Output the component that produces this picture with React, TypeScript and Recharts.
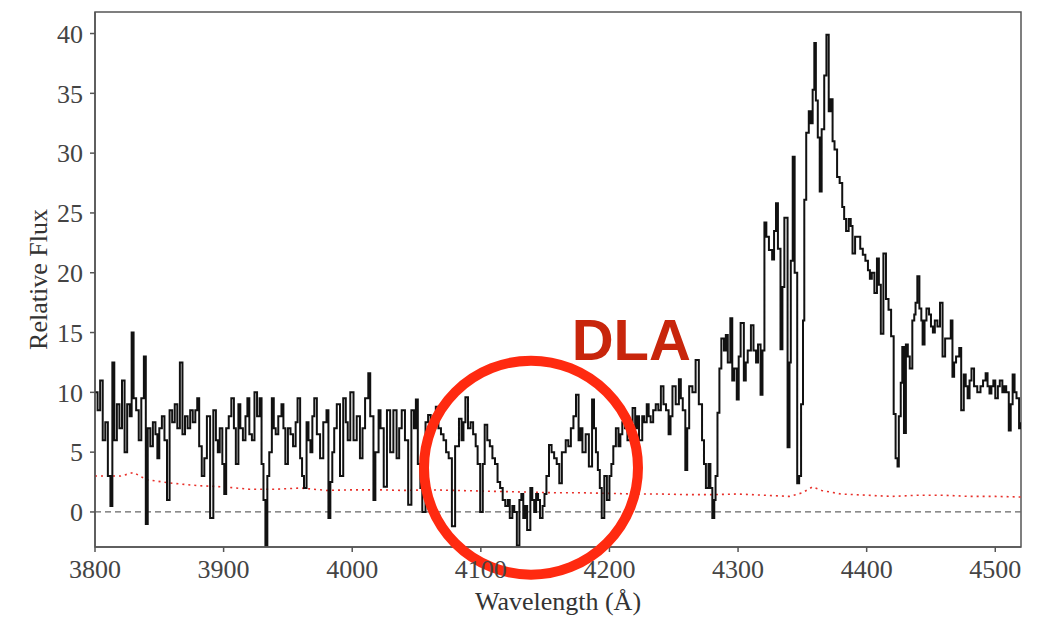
import React from 'react';
import { LineChart, XAxis, YAxis, Line, ReferenceLine, ReferenceDot, ReferenceArea } from 'recharts';

// wavelength (Angstrom) of each spectrum sample
const waves = [
  3800, 3802, 3804, 3806, 3808, 3810, 3812, 3813.5, 3815, 3817, 3819, 3821, 3823, 3825, 3827, 3828.5, 3830, 3832, 3834, 3836,
  3838, 3839.5, 3841, 3843, 3845, 3847, 3848.5, 3850, 3852, 3854, 3856, 3858, 3860, 3862, 3864, 3866, 3868, 3870, 3872, 3874,
  3876, 3878, 3879.5, 3881, 3883, 3885, 3887, 3889.5, 3892, 3894, 3895.5, 3897, 3899, 3900.5, 3902, 3904, 3906, 3908, 3909.5, 3911.5,
  3913, 3915, 3917, 3918.5, 3920, 3922, 3924,
  3926, 3928, 3929.5, 3931, 3932.5, 3934, 3935.5, 3937.5, 3939, 3940.5, 3942.5, 3945, 3946.5, 3948, 3950, 3952, 3954, 3956, 3957.5, 3959.5,
  3961, 3962.5, 3964.5, 3966, 3967.5, 3969, 3970.5, 3972.5, 3975, 3977.5, 3980, 3981.5, 3983, 3984.5, 3986, 3988, 3990.5, 3993, 3995, 3996.5,
  3998.5, 4001, 4003.5, 4006, 4008, 4010, 4012.5, 4014, 4016.5, 4018, 4020.5, 4022, 4024.5, 4027, 4029.5, 4032, 4034.5, 4036.5, 4038.5, 4041,
  4043.5,
  4046, 4048, 4049.5, 4051, 4053, 4054.5, 4057, 4059, 4061, 4063, 4065, 4067, 4069, 4071, 4073, 4075, 4077.5, 4080, 4083, 4085,
  4086.5, 4088, 4090, 4092, 4094, 4096, 4097.5, 4099.5, 4101.5, 4103, 4105, 4107, 4109, 4111, 4113, 4115, 4117, 4119, 4121, 4122.5,
  4124.5, 4126, 4128, 4130, 4131.5, 4133, 4134.5, 4136, 4138.5, 4140, 4141.5, 4143, 4144.5, 4146, 4148, 4149.5, 4151, 4153, 4155, 4157,
  4159, 4161, 4163,
  4166, 4168, 4170, 4172, 4174, 4176, 4177.5, 4179, 4181.5, 4184, 4186.5, 4188, 4189.5, 4191, 4192.5, 4194, 4196, 4198, 4200, 4201.5,
  4203, 4205, 4207, 4208.5, 4210, 4212, 4214, 4216, 4218, 4220, 4221.5, 4223, 4225.5, 4227, 4229, 4230.5, 4232, 4234, 4236, 4238,
  4240, 4242, 4244, 4246, 4247.5, 4249, 4251.5, 4254, 4255.5, 4257, 4259, 4260.5, 4262, 4264.5, 4267, 4269.5, 4272, 4273.5, 4275, 4277,
  4278.5, 4280, 4281.5, 4282.5,
  4284, 4285.5, 4287, 4289, 4290.5, 4292, 4294, 4295.5, 4297, 4299, 4300.5, 4302, 4304.5, 4306, 4307.5, 4310, 4312, 4314, 4315.5, 4317.5,
  4319, 4320.5, 4322, 4324, 4326.5, 4328, 4329.5, 4331, 4333, 4334.5, 4336, 4338.5, 4340, 4341, 4342.5, 4344, 4346, 4347.5, 4349, 4350.5,
  4351.5, 4353, 4355, 4356.5, 4358, 4359.3, 4360.5, 4362, 4363.5, 4365, 4367, 4368.7, 4370.5, 4372, 4373.5, 4375, 4377, 4379, 4381, 4382.5,
  4384, 4386, 4387.6, 4389, 4391, 4393, 4395, 4397, 4399, 4401, 4402.5, 4404, 4406,
  4408, 4409.5, 4411, 4413, 4415, 4417, 4419, 4421, 4422.5, 4424, 4425, 4426.5, 4427.7, 4429, 4430.5, 4432, 4433.5, 4435.5, 4437, 4438,
  4439.4, 4441, 4442.5, 4443.5, 4445, 4446.5, 4448.5, 4450, 4451.5, 4453, 4455, 4457, 4459, 4461, 4463, 4465.4, 4466.7, 4468, 4469.5, 4472,
  4473.5, 4475.5, 4477, 4478.5, 4480, 4481.5, 4483.5, 4486, 4488.5, 4490.5, 4492.5, 4494, 4495.5, 4497, 4498.5, 4500, 4502, 4503.5, 4505.5, 4507,
  4508.5, 4510.5, 4512, 4513.5, 4515, 4516.5, 4518.5, 4520,
];

// relative flux at each of the wavelengths above
const flux = [
  10, 8.5, 11, 6, 7.5, 3, 0.5, 12.5, 6, 9, 7, 11, 5, 9, 8, 15, 9.5, 8.5, 6, 9.5,
  13, -1, 7, 5.5, 7.5, 6.5, 4.5, 7, 8, 6, 1, 8.5, 7.5, 9, 7, 12.5, 6.5, 8, 7, 8.5,
  7.5, 8.5, 9.5, 5.5, 3, 4.5, 8, -0.5, 8.5, 6, 5, 7, 4, 1.5, 7, 8, 9.5, 7, 4, 9,
  7, 6, 8, 9.5, 6.5, 6, 10,
  8, 9.5, 4, 1, -2.8, 3, 5, 9.5, 7, 6.5, 8, 9, 7, 4, 7, 6.5, 5.5, 7.5, 9.5, 4.5,
  3, 2, 7.5, 6, 5, 8, 9.5, 6.5, 4.5, 7.5, 8.5, -0.5, 2.5, 5, 7, 9, 3, 9.5, 7.5, 6,
  10, 6, 8, 4.5, 7, 9.5, 11.6, 8, 1, 5, 8.5, 7, 2.1, 8.5, 5, 8.5, 4.5, 7, 8.5, 6,
  0.6,
  8.5, 7, 9.4, 4, 2, 0, 7.5, 8.1, 7, 8, 8.8, 7, 6.5, 6, 5, 4.5, -1.2, 5.5, 7.8, 6,
  7.5, 9.6, 7, 7.5, 6.5, 5.5, 4, 0, 4, 7.3, 6, 5.5, 4.5, 4, 2.5, 2, 1, 0.5, 1, -0.5,
  0.5, 0, -2.8, 1, 1.5, -0.5, 0.5, -1.5, 2, 1, 0, 1.5, 1, -0.5, 0.5, 1.5, 3, 5.6, 5, 4.5,
  4, 2.4, 5,
  6, 5.5, 7, 8, 9.8, 6, 7, 5, 6.5, 3.8, 9.4, 7, 5, 3.5, 2, -0.5, 3, 1, 3, 4,
  5.5, 7, 5.5, 6.5, 7.5, 7, 6, 7.5, 8.7, 7, 8, 6, 8, 7.5, 9, 8, 7.5, 8.5, 9, 8.5,
  10.5, 9, 8.5, 6.5, 8, 10.5, 9, 11.1, 9.5, 8.5, 3.5, 7, 10.5, 10, 12.7, 9, 6, 4, 2, 4,
  2, -0.5, 1, 3,
  8.3, 12, 14.5, 13.5, 14.8, 12.5, 16.2, 11, 12, 9.4, 13, 15.8, 11, 12.5, 13.5, 15.6, 13.5, 12.5, 14, 9.8,
  13.5, 24.2, 23, 21.9, 21.1, 23.5, 25.8, 22, 13.6, 18.8, 24.6, 5.4, 12.5, 21, 29.7, 20, 2.4, 3, 9, 16,
  26.1, 31.7, 33.5, 32.5, 35.3, 39.2, 34.4, 31.3, 26.8, 32, 36.5, 39.9, 33.5, 34.5, 31, 30.3, 28, 27.5, 25.5, 24.5,
  23.5, 24.5, 23.9, 21.6, 23, 23, 22, 21.5, 21, 20.2, 19.5, 20, 18.3,
  21.2, 19, 14.9, 21.6, 17.8, 16.9, 14.7, 8.2, 4.5, 3.8, 8, 10.8, 13.8, 6.6, 14, 13, 12, 16, 16.5, 17.5,
  19.7, 17, 16, 14, 16, 17, 16.5, 15.5, 15, 16, 15.5, 17.5, 13, 14.5, 14.5, 16, 11.3, 12.5, 13, 13.7,
  8.5, 11.5, 10.5, 9.5, 11, 12, 10.5, 10, 10.5, 11, 11.6, 10.5, 9.9, 10.5, 11, 9.5, 10.5, 11, 10, 10.5,
  10, 6.8, 9, 11.5, 10, 9.5, 7, 7.5,
];

// error spectrum (red dotted)
const errWaves = [
  3800, 3820, 3830, 3840, 3860, 3880, 3900, 3920, 3940, 3960, 3980, 4000, 4020, 4040, 4060, 4080, 4100, 4120, 4140, 4160,
  4180, 4200, 4220, 4240, 4260, 4280, 4300, 4320, 4340, 4350, 4358, 4365, 4380, 4400, 4420, 4440, 4460, 4480, 4500, 4520,
];
const errFlux = [
  3.0, 3.0, 3.3, 2.7, 2.4, 2.2, 2.1, 1.9, 1.9, 2.0, 1.8, 1.85, 1.85, 1.8, 1.85, 1.8, 1.75, 1.7, 1.65, 1.6,
  1.6, 1.55, 1.5, 1.5, 1.45, 1.45, 1.5, 1.4, 1.3, 1.6, 2.1, 1.8, 1.5, 1.4, 1.3, 1.4, 1.4, 1.3, 1.3, 1.25,
];

const xTicks = [3800, 3900, 4000, 4100, 4200, 4300, 4400, 4500];
const yTicks = [0, 5, 10, 15, 20, 25, 30, 35, 40];

const spectrum = waves.map((w, i) => ({ w, f: flux[i] }));
const errorSpec = errWaves.map((w, i) => ({ w, f: errFlux[i] }));

const serif = '"Liberation Serif", "Times New Roman", serif';
const tickStyle = { fontFamily: serif, fontSize: 26, fill: '#444' };

const YLabel = (props: any) => {
  const vb = props.viewBox;
  const cx = vb.x + 38;
  const cy = vb.y + vb.height / 2;
  return (
    <text x={cx} y={cy} transform={`rotate(-90, ${cx}, ${cy})`} textAnchor="middle" dominantBaseline="central"
      fontFamily={serif} fontSize={26} fill="#333">Relative Flux</text>
  );
};

const XLabel = (props: any) => {
  const vb = props.viewBox;
  return (
    <text x={vb.x + vb.width / 2} y={vb.y + 63} textAnchor="middle" fontFamily={serif} fontSize={26} fill="#333">
      Wavelength (Å)
    </text>
  );
};

const DlaLabel = (props: any) => {
  const vb = props.viewBox;
  return (
    <text x={vb.x + vb.width / 2} y={vb.y + vb.height / 2} textAnchor="middle" fill="#c8260c"
      fontFamily='"Liberation Sans", Arial, sans-serif' fontWeight="bold" fontSize={58}>DLA</text>
  );
};

export default function App() {
  return (
    <div>
      <style>{'body { margin: 0; }'}</style>
      <LineChart width={1039} height={618} margin={{ top: 12, right: 18, left: 0, bottom: 0 }}>
        <XAxis dataKey="w" type="number" domain={[3800, 4520]} ticks={xTicks} allowDataOverflow
          height={71} tick={tickStyle} tickSize={5} tickMargin={8} stroke="#555" strokeWidth={1.5}
          label={{ content: <XLabel /> }} />
        <YAxis type="number" domain={[-2.93, 41.8]} ticks={yTicks} allowDataOverflow width={95}
          tick={tickStyle} tickSize={5} tickMargin={7} stroke="#555" strokeWidth={1.5}
          label={{ content: <YLabel /> }} />
        <ReferenceArea x1={3800} x2={4520} y1={-2.93} y2={41.8} fill="none" stroke="#555" strokeWidth={1.5}
          ifOverflow="visible" />
        <ReferenceLine y={0} stroke="#666" strokeDasharray="6 4" strokeWidth={1.3} />
        <Line data={errorSpec} dataKey="f" type="linear" stroke="#e8302a" strokeWidth={1.6}
          strokeDasharray="2 4" dot={false} isAnimationActive={false} />
        <Line data={spectrum} dataKey="f" type="stepAfter" stroke="#111" strokeWidth={2}
          dot={false} isAnimationActive={false} />
        <ReferenceDot x={4139} y={3.7} r={107} fill="none" stroke="#ff2a10" strokeWidth={10}
          ifOverflow="visible" />
        <ReferenceDot x={4217} y={12.7} r={0} fill="none" stroke="none" ifOverflow="visible"
          label={{ content: <DlaLabel /> }} />
      </LineChart>
    </div>
  );
}
